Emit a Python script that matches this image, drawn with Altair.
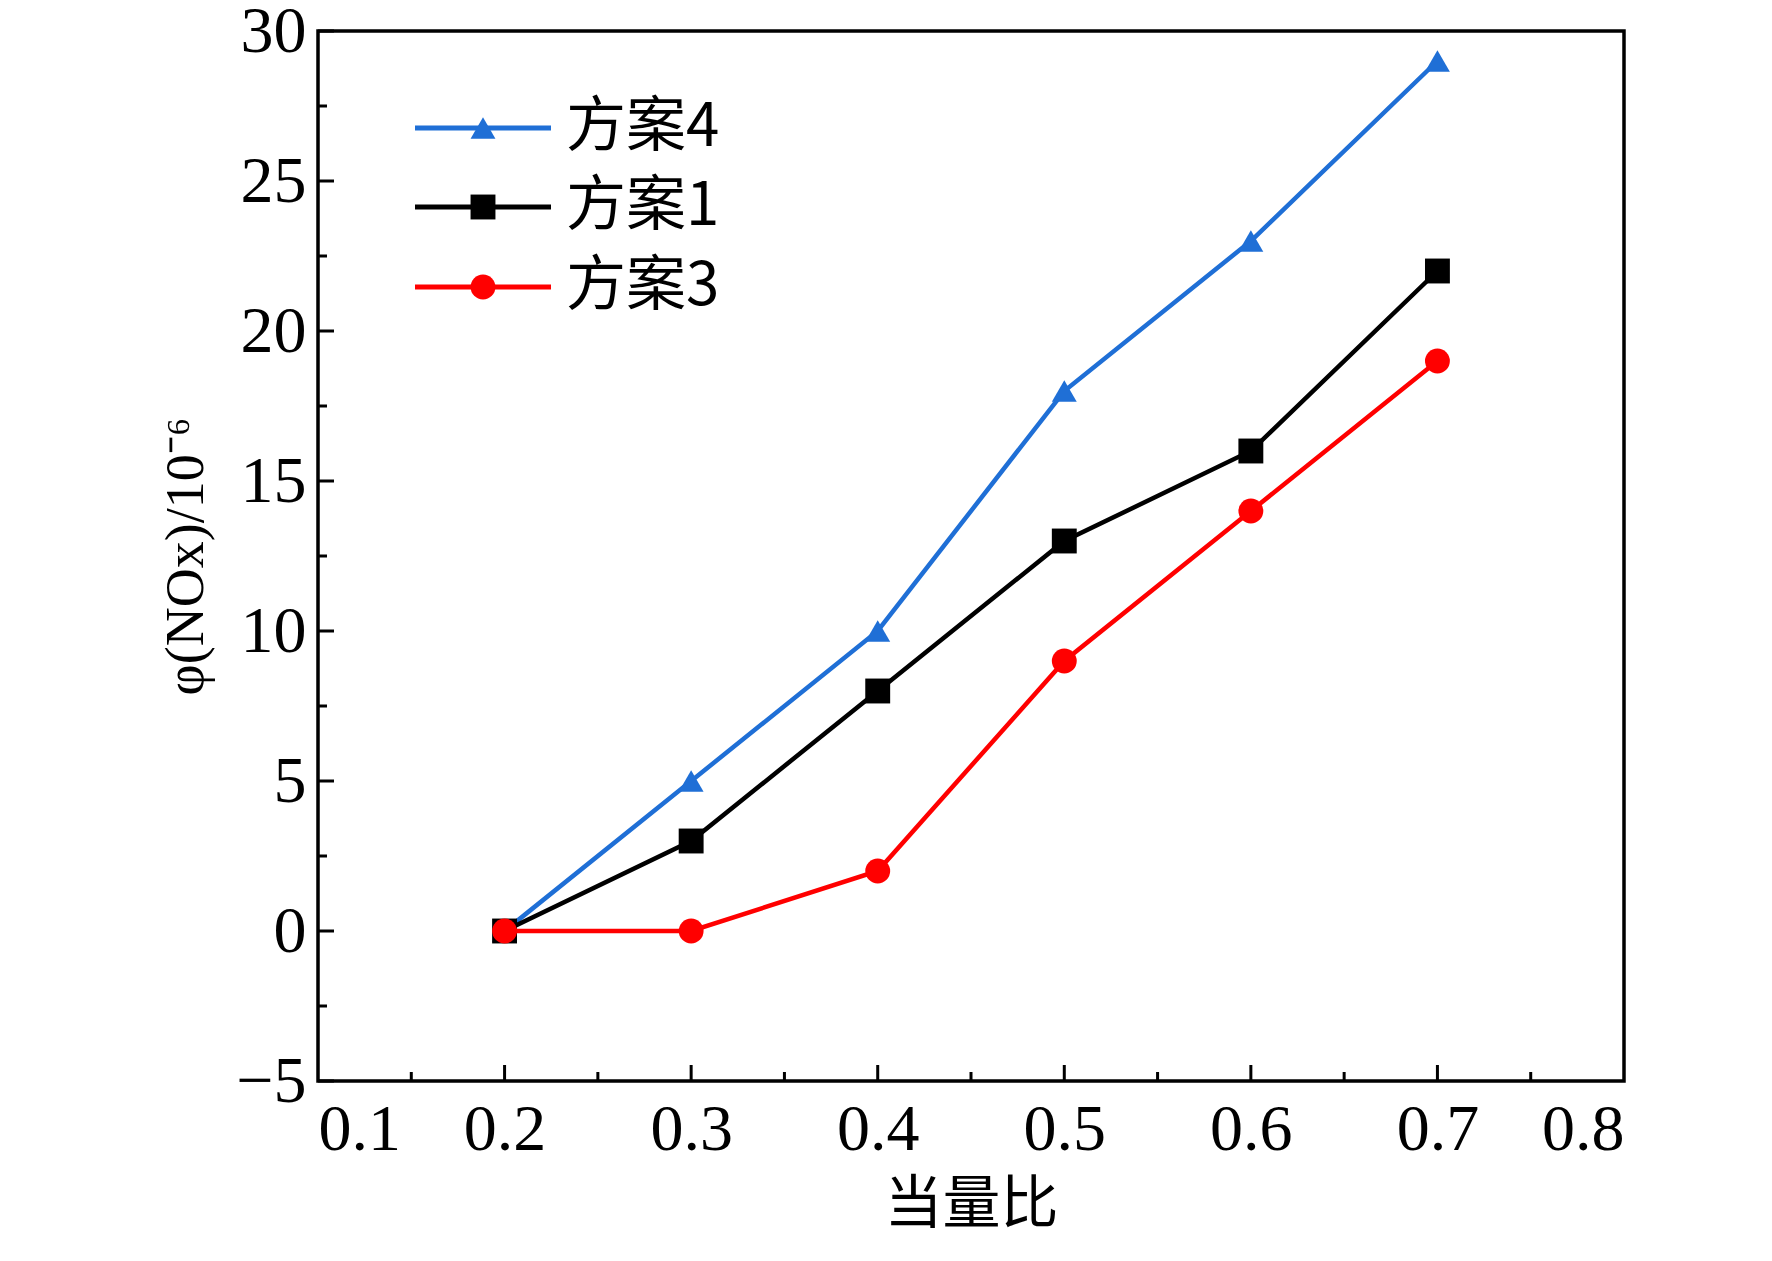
import altair as alt
import pandas as pd

# 当量比
ratio = [0.2, 0.3, 0.4, 0.5, 0.6, 0.7]
# NOx 体积分数 (10^-6)
plan4 = [0, 5, 10, 18, 23, 29]
plan1 = [0, 3, 8, 13, 16, 22]
plan3 = [0, 0, 2, 9, 14, 19]

series = [("方案4", plan4, "#1f6fd6", "triangle-up"),
          ("方案1", plan1, "#000000", "square"),
          ("方案3", plan3, "#ff0000", "circle")]

y_major = [-5, 0, 5, 10, 15, 20, 25, 30]
y_minor = [-2.5, 2.5, 7.5, 12.5, 17.5, 22.5, 27.5]
x_major = [0.2, 0.3, 0.4, 0.5, 0.6, 0.7]
x_minor = [0.15, 0.25, 0.35, 0.45, 0.55, 0.65, 0.75]

W, H = 1306, 1050
xs = alt.Scale(domain=[0.1, 0.8], nice=False)
ys = alt.Scale(domain=[-5, 30], nice=False)
FONT = "Liberation Serif"

base_x = alt.X("x:Q", scale=xs, axis=alt.Axis(
    title="当量比", titleFont="Noto Sans CJK SC", titleFontWeight="normal",
    titleFontSize=58, titlePadding=14, values=[0.1, 0.2, 0.3, 0.4, 0.5, 0.6, 0.7, 0.8],
    format=".1f", labelFont=FONT, labelFontSize=66, labelPadding=16,
    tickSize=0, domain=False, grid=False, labelColor="black", titleColor="black"))
base_y = alt.Y("y:Q", scale=ys, axis=alt.Axis(
    title="φ(NOx)/10⁻⁶", titleFont=FONT, titleFontWeight="normal",
    titleFontSize=54, titlePadding=22, values=y_major, labelFont=FONT,
    labelFontSize=66, labelPadding=12, tickSize=0, domain=False, grid=False,
    labelColor="black", titleColor="black"))

layers = []
for name, vals, col, shape in series:
    df = pd.DataFrame({"x": ratio, "y": vals})
    layers.append(alt.Chart(df).mark_line(color=col, strokeWidth=4.5).encode(x=base_x, y=base_y))
    layers.append(alt.Chart(df).mark_point(shape=shape, filled=True, color=col, size=620, opacity=1)
                  .encode(x=alt.X("x:Q", scale=xs), y=alt.Y("y:Q", scale=ys)))

# inward ticks
def yticks(vals, length):
    return alt.Chart(pd.DataFrame({"y": vals})).mark_rule(color="black", strokeWidth=3).encode(
        y=alt.Y("y:Q", scale=ys), x=alt.value(0), x2=alt.value(length))

def xticks(vals, length):
    return alt.Chart(pd.DataFrame({"x": vals})).mark_rule(color="black", strokeWidth=3).encode(
        x=alt.X("x:Q", scale=xs), y=alt.value(H), y2=alt.value(H - length))

layers += [yticks(y_major, 16), yticks(y_minor, 9), xticks(x_major, 16), xticks(x_minor, 9)]

# legend
leg_y = [97, 176, 256]
for (name, vals, col, shape), ly in zip(series, leg_y):
    d = pd.DataFrame({"t": [name]})
    layers.append(alt.Chart(d).mark_rule(color=col, strokeWidth=5).encode(
        x=alt.value(97), x2=alt.value(233), y=alt.value(ly)))
    layers.append(alt.Chart(d).mark_point(shape=shape, filled=True, color=col, size=620, opacity=1).encode(
        x=alt.value(165), y=alt.value(ly)))
    layers.append(alt.Chart(d).mark_text(align="left", baseline="middle", font="Noto Sans CJK SC",
                                         fontSize=60, color="black").encode(
        x=alt.value(248), y=alt.value(ly), text="t:N"))

chart = alt.layer(*layers).properties(
    width=W, height=H,
    autosize=alt.AutoSizeParams(type="none"),
    padding={"left": 310, "top": 23, "right": 120, "bottom": 170},
    view=alt.ViewBackground(stroke="black", strokeWidth=3.5),
).configure(background="white")

chart.save("out.html", embed_options={"renderer": "svg", "actions": False})
